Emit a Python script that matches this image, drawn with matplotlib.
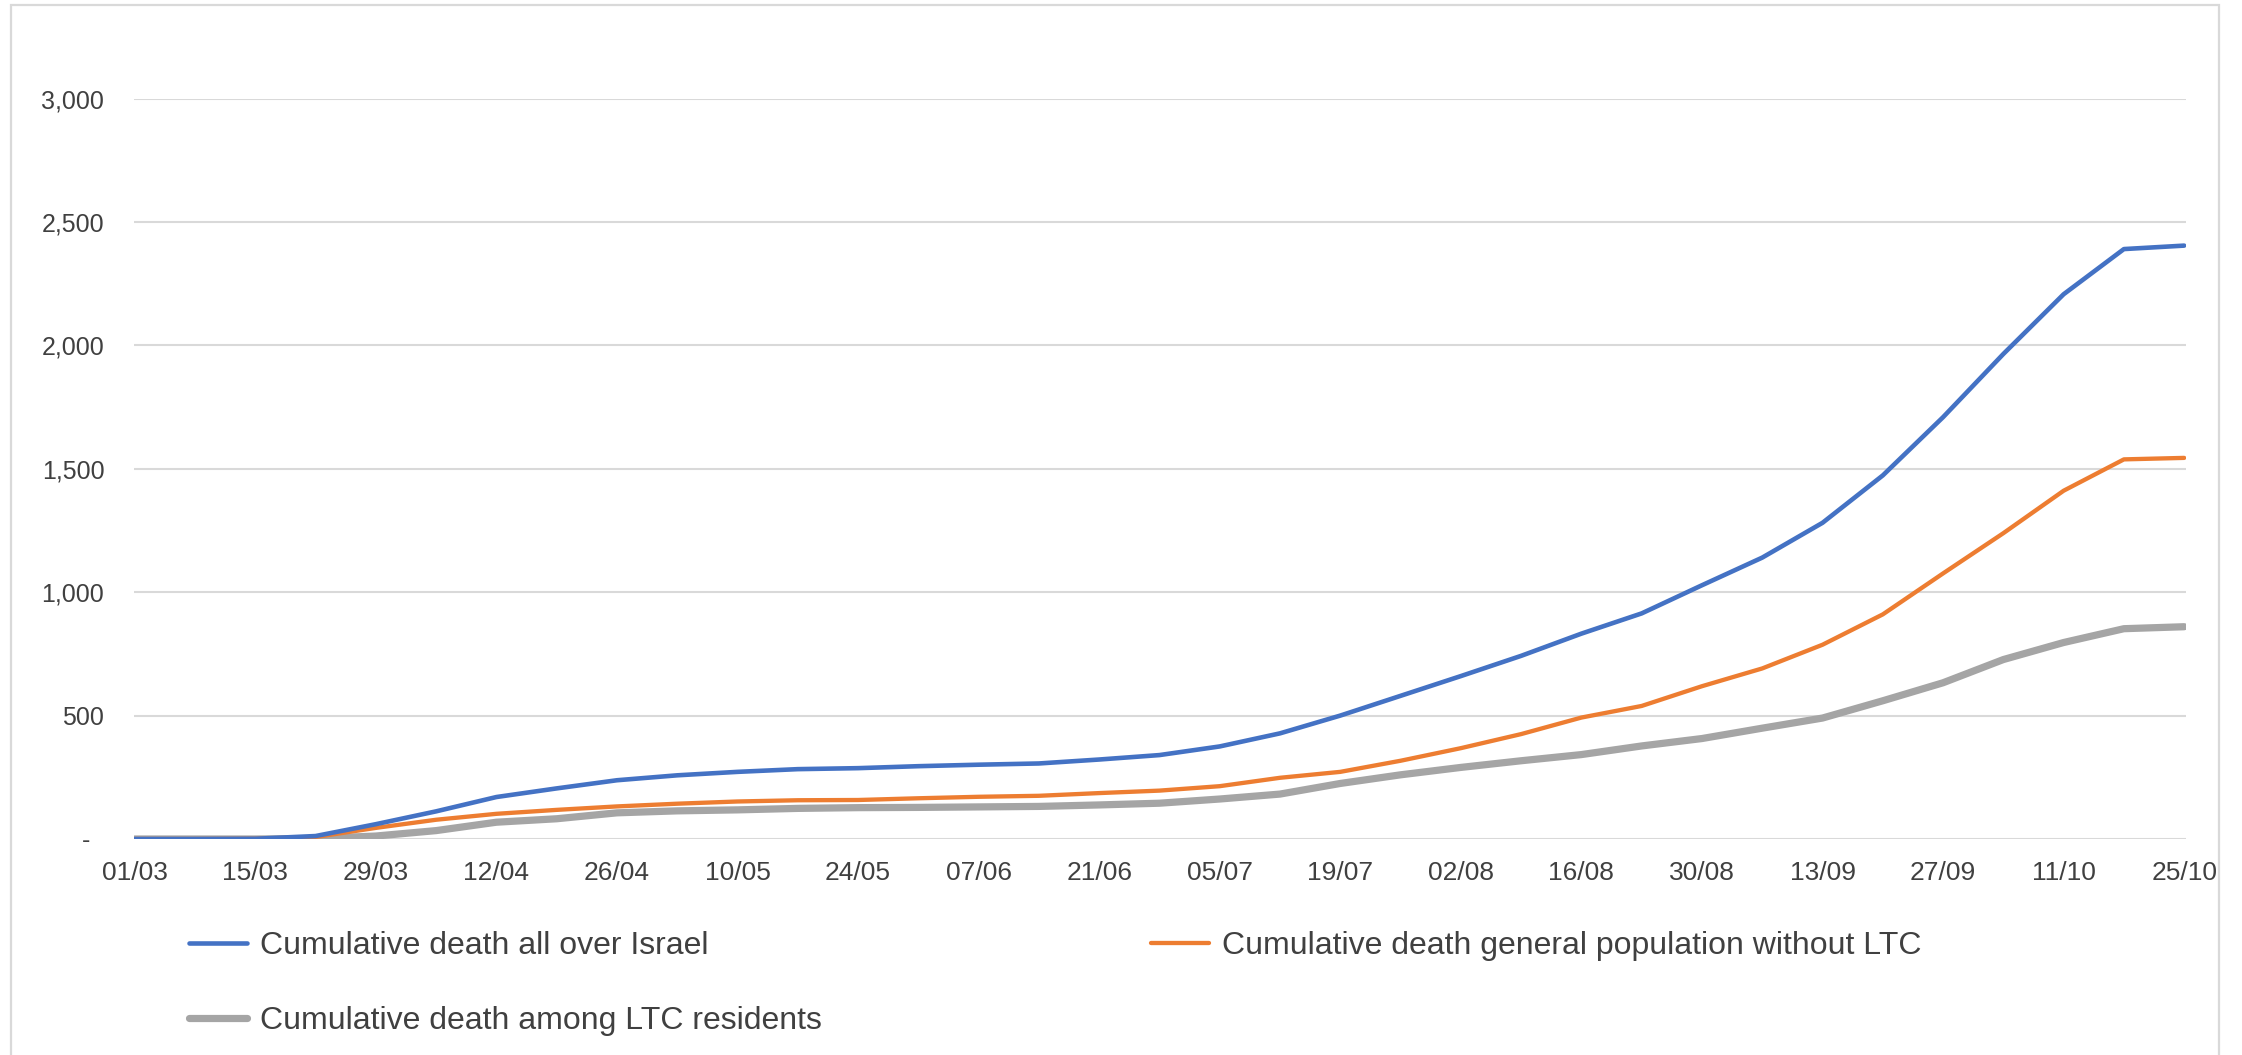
import matplotlib
matplotlib.use("Agg")
from matplotlib import pyplot as plt
from matplotlib.patches import Rectangle

plt.rcParams['font.family'] = ['Liberation Sans', 'DejaVu Sans']

# weekly dates (Sundays), 2020
weeks = ['01/03', '08/03', '15/03', '22/03', '29/03', '05/04', '12/04',
         '19/04', '26/04', '03/05', '10/05', '17/05', '24/05', '31/05',
         '07/06', '14/06', '21/06', '28/06', '05/07', '12/07', '19/07',
         '26/07', '02/08', '09/08', '16/08', '23/08', '30/08', '06/09',
         '13/09', '20/09', '27/09', '04/10', '11/10', '18/10', '25/10']

# cumulative deaths
all_israel = [0, 0, 1, 12, 60, 112, 170, 205, 238, 258, 272, 283, 287, 295,
              301, 306, 322, 340, 375, 428, 500, 580, 660, 742, 832, 914,
              1028, 1140, 1281, 1473, 1709, 1965, 2207, 2390, 2404]
general_pop = [0, 0, 1, 8, 45, 78, 102, 118, 132, 143, 152, 157, 158, 165,
               171, 175, 186, 196, 214, 248, 272, 317, 368, 425, 492, 539,
               619, 691, 787, 910, 1076, 1239, 1411, 1538, 1544]
ltc_residents = [0, 0, 0, 2, 12, 34, 68, 82, 106, 114, 118, 124, 127, 128,
                 130, 132, 138, 145, 162, 182, 225, 260, 290, 317, 342, 377,
                 407, 449, 490, 560, 633, 727, 796, 852, 860]

labels = ['Cumulative death all over Israel',
          'Cumulative death general population without LTC',
          'Cumulative death among LTC residents']

text_col = '#404040'
grid_col = '#D9D9D9'

fig = plt.figure(figsize=(22.42, 10.55), dpi=100)
ax = fig.add_axes([133.5 / 2242, 1 - 839 / 1055, (2186 - 133.5) / 2242, (839 - 98.5) / 1055])

x = list(range(len(weeks)))
l1, = ax.plot(x, all_israel, color='#4472C4', lw=3.3, solid_capstyle='round', solid_joinstyle='round', zorder=4)
l2, = ax.plot(x, general_pop, color='#ED7D31', lw=3.1, solid_capstyle='round', solid_joinstyle='round', zorder=3)
l3, = ax.plot(x, ltc_residents, color='#A5A5A5', lw=5.2, solid_capstyle='round', solid_joinstyle='round', zorder=2)

ax.set_xlim(-0.02, 34.03)
ax.set_ylim(0, 3000)
ax.set_yticks([0, 500, 1000, 1500, 2000, 2500, 3000])
ax.set_yticklabels(['-  ', '500', '1,000', '1,500', '2,000', '2,500', '3,000'])
ax.set_xticks(x[::2])
ax.set_xticklabels(weeks[::2])
ax.tick_params(axis='both', length=0, labelcolor=text_col)
ax.tick_params(axis='y', pad=21, labelsize=18)
ax.tick_params(axis='x', pad=16, labelsize=19)
ax.grid(axis='y', color=grid_col, lw=1.5)
ax.set_axisbelow(True)
for s in ax.spines.values():
    s.set_visible(False)

# legend in two columns below the plot
fig.legend([l1, l3, l2], [labels[0], labels[2], labels[1]], ncol=2,
           loc='upper left', bbox_to_anchor=(189 / 2242, 1 - 931 / 1055),
           frameon=False, fontsize=23, handlelength=1.82, handletextpad=0.41,
           columnspacing=10.3, labelspacing=1.4, borderpad=0, borderaxespad=0,
           labelcolor=text_col)

# chart frame
fig.patches.append(Rectangle((11, -20), 2208, 1070, transform=None, fill=False,
                             edgecolor=grid_col, lw=1.6))

fig.savefig('out.png', dpi=100)
